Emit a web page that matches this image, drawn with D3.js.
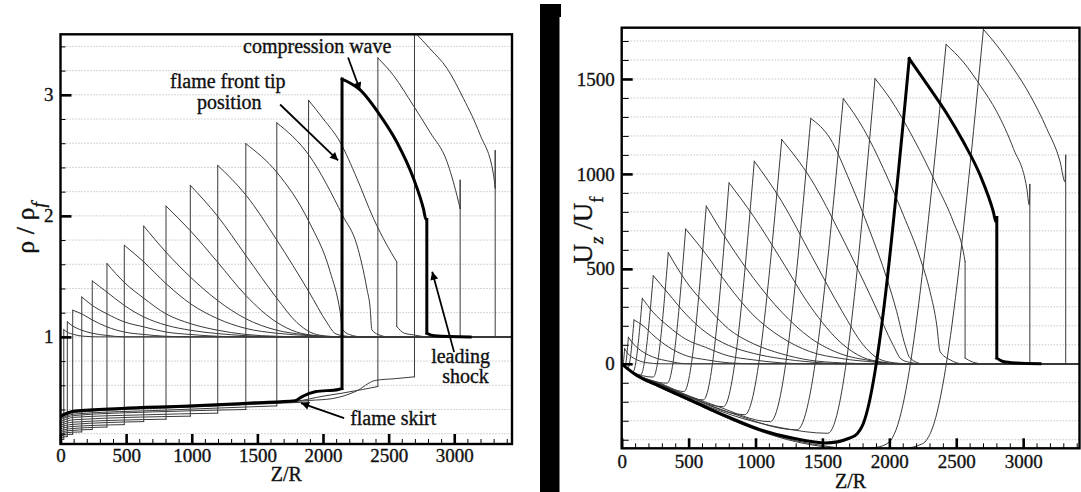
<!DOCTYPE html>
<html>
<head>
<meta charset="utf-8">
<script src="https://cdn.jsdelivr.net/npm/d3@7"></script>
<style>
  body { margin: 0; background: #fff; }
  svg { display: block; }
</style>
</head>
<body>
<svg id="chart" width="1081" height="492"></svg>
<script>
// density profiles rho/rho_f along Z/R, one array per time step: [Z/R, value]
const rho01 = [[0,0.150],[12,0.152],[25,0.153],[25,1.06],[50,1.04],[100,1.02],[180,1.005],[300,1.0],[3440,1.0]];
const rho02 = [[0,0.165],[20,0.172],[52,0.176],[52,1.124],[93,1.09],[162,1.055],[242,1.03],[354,1.012],[486,1.0],[3440,1.0]];
const rho03 = [[0,0.18],[30,0.19],[93,0.195],[93,1.22],[162,1.19],[242,1.14],[354,1.083],[486,1.04],[634,1.02],[804,1.005],[1000,1.0],[3440,1.0]];
const rho04 = [[0,0.195],[40,0.208],[162,0.215],[162,1.33],[242,1.26],[354,1.19],[486,1.124],[634,1.083],[804,1.04],[989,1.02],[1198,1.005],[1400,1.0],[3440,1.0]];
const rho05 = [[0,0.21],[50,0.224],[242,0.235],[242,1.462],[354,1.37],[486,1.26],[634,1.165],[804,1.097],[989,1.055],[1198,1.027],[1412,1.01],[1650,1.0],[3440,1.0]];
const rho06 = [[0,0.225],[60,0.24],[354,0.255],[354,1.606],[486,1.45],[634,1.32],[804,1.19],[989,1.11],[1198,1.055],[1412,1.02],[1648,1.005],[1900,1.0],[3440,1.0]];
const rho07 = [[0,0.24],[70,0.258],[486,0.275],[486,1.757],[634,1.62],[804,1.44],[989,1.275],[1198,1.15],[1412,1.07],[1648,1.03],[1900,1.01],[2100,1.0],[3440,1.0]];
const rho08 = [[0,0.255],[80,0.276],[634,0.30],[634,1.916],[804,1.70],[989,1.495],[1198,1.30],[1412,1.15],[1648,1.055],[1850,1.02],[2050,1.0],[3440,1.0]];
const rho09 = [[0,0.27],[90,0.295],[804,0.32],[804,2.081],[987,1.88],[1195,1.62],[1414,1.34],[1648,1.12],[1800,1.04],[1950,1.01],[2100,1.0],[3440,1.0]];
const rho10 = [[0,0.285],[100,0.315],[989,0.345],[989,2.252],[1195,2.0],[1414,1.67],[1648,1.32],[1800,1.12],[1900,1.04],[2000,1.01],[2150,1.0],[3440,1.0]];
const rho11 = [[0,0.30],[100,0.335],[600,0.355],[1198,0.37],[1198,2.417],[1414,2.17],[1648,1.80],[1894,1.37],[2029,1.12],[2090,1.03],[2150,1.01],[2250,1.0],[3440,1.0]];
const rho12 = [[0,0.315],[100,0.35],[700,0.38],[1412,0.40],[1412,2.596],[1648,2.36],[1894,1.95],[2054,1.54],[2130,1.21],[2150,1.06],[2200,1.02],[2300,1.0],[3440,1.0]];
const rho13 = [[0,0.325],[100,0.362],[800,0.395],[1648,0.43],[1648,2.769],[1894,2.50],[2151,2.0],[2258,1.76],[2334,1.40],[2359,1.24],[2372,1.06],[2420,1.02],[2500,1.0],[3440,1.0]];
const rho14 = [[0,0.335],[100,0.375],[1000,0.42],[1890,0.462],[1890,2.955],[2003,2.80],[2130,2.61],[2258,2.31],[2384,1.98],[2486,1.76],[2562,1.62],[2562,1.086],[2620,1.03],[2689,1.017],[2800,1.0],[3440,1.0]];
const rho15 = [[0,0.346],[110,0.387],[466,0.409],[974,0.428],[1482,0.455],[1787,0.472],[1838,0.505],[1940,0.546],[2118,0.566],[2145,0.574],[2145,3.13],[2283,3.04],[2435,2.83],[2562,2.61],[2689,2.31],[2765,2.06],[2785,1.97],[2791,1.97],[2791,1.03],[2850,1.01],[3121,1.0]];
const rho16 = [[0,0.35],[110,0.39],[1000,0.43],[1800,0.47],[2000,0.51],[2145,0.535],[2300,0.565],[2418,0.59],[2418,3.305],[2537,3.16],[2689,2.91],[2816,2.69],[2944,2.45],[3020,2.17],[3045,2.06],[3045,2.295],[3045,1.0],[3440,1.0]];
const rho17 = [[0,0.35],[110,0.39],[1000,0.43],[1900,0.475],[2070,0.49],[2250,0.55],[2398,0.64],[2550,0.655],[2697,0.67],[2697,3.52],[2816,3.38],[2944,3.22],[3070,2.97],[3197,2.67],[3299,2.34],[3312,2.23],[3312,2.54],[3312,1.0],[3440,1.0]];

// axial velocity profiles Uz/Uf along Z/R, same time steps
const u01 = [[0,0],[8,-4],[22,80],[47,53],[97,27],[177,7],[297,0],[3421,0]];
const u02 = [[0,0],[24,-12],[50,140],[91,102],[160,62],[240,34],[352,14],[484,0],[3421,0]];
const u03 = [[0,0],[20,-12],[46,-24],[92,231],[161,200],[241,147],[353,87],[485,42],[633,21],[803,5],[1000,0],[3421,0]];
const u04 = [[0,0],[40,-24],[84,-42],[154,345],[234,272],[346,199],[478,130],[626,87],[796,42],[981,21],[1190,5],[1400,0],[3421,0]];
const u05 = [[0,0],[60,-34],[140,-60],[236,464],[348,371],[480,261],[628,166],[798,97],[983,55],[1192,27],[1406,10],[1650,0],[3421,0]];
const u06 = [[0,0],[80,-42],[235,-70],[348,585],[480,435],[628,309],[798,184],[983,106],[1192,53],[1406,19],[1642,5],[1900,0],[3421,0]];
const u07 = [[0,0],[100,-50],[340,-102],[478,710],[626,581],[796,413],[981,258],[1190,141],[1404,65],[1640,28],[1892,9],[2100,0],[3421,0]];
const u08 = [[0,0],[100,-52],[280,-100],[465,-146],[632,831],[802,635],[987,449],[1196,272],[1410,136],[1646,50],[1848,18],[2050,0],[3421,0]];
const u09 = [[0,0],[100,-53],[320,-115],[610,-190],[802,953],[985,777],[1193,547],[1412,300],[1646,106],[1798,35],[1948,9],[2100,0],[3421,0]];
const u10 = [[0,0],[100,-54],[380,-135],[760,-226],[991,1067],[1197,854],[1416,572],[1650,273],[1802,102],[1902,34],[2002,9],[2150,0],[3421,0]];
const u11 = [[0,0],[100,-55],[460,-160],[920,-268],[1196,1181],[1412,975],[1646,667],[1892,308],[2027,100],[2088,25],[2150,8],[2250,0],[3421,0]];
const u12 = [[0,0],[100,-56],[300,-112],[700,-220],[1110,-305],[1413,1292],[1557,1187],[1706,959],[1856,696],[1981,450],[2055,275],[2117,100],[2155,30],[2250,0],[3421,0]];
const u13 = [[0,0],[100,-57],[300,-114],[800,-255],[1310,-348],[1656,1397],[1806,1239],[1955,1029],[2105,783],[2230,556],[2304,380],[2354,205],[2379,65],[2454,21],[2550,0],[3421,0]];
const u14 = [[0,0],[100,-58],[300,-117],[800,-265],[1200,-338],[1540,-366],[1893,1502],[2005,1397],[2180,1187],[2354,941],[2478,748],[2553,590],[2566,538],[2566,30],[2620,10],[2700,0],[3421,0]];
const u15 = [[0,0],[110,-60],[286,-119],[535,-198],[785,-277],[1034,-347],[1300,-395],[1525,-417],[1700,-392],[1760,-368],[1796,-330],[2149,1607],[2304,1449],[2429,1318],[2553,1169],[2678,994],[2777,801],[2797,748],[2803,770],[2803,30],[2850,12],[2950,4],[3126,0]];
const u16 = [[0,0],[110,-62],[286,-123],[535,-203],[785,-282],[1034,-352],[1300,-405],[1525,-433],[1706,-448],[1900,-440],[2000,-412],[2040,-365],[2424,1682],[2553,1589],[2678,1467],[2803,1327],[2927,1134],[3027,924],[3046,836],[3050,945],[3050,0],[3421,0]];
const u17 = [[0,0],[110,-63],[286,-125],[535,-205],[785,-285],[1034,-355],[1300,-410],[1525,-438],[1800,-450],[2100,-446],[2250,-420],[2310,-360],[2703,1761],[2803,1677],[2927,1555],[3052,1414],[3176,1239],[3276,1064],[3313,958],[3318,1099],[3318,0],[3421,0]];

const rhoProfiles = [rho01, rho02, rho03, rho04, rho05, rho06, rho07, rho08, rho09, rho10, rho11, rho12, rho13, rho14, rho15, rho16, rho17];
const uProfiles = [u01, u02, u03, u04, u05, u06, u07, u08, u09, u10, u11, u12, u13, u14, u15, u16, u17];
const highlighted = 14; // the profile drawn bold

const zTicks = [0, 500, 1000, 1500, 2000, 2500, 3000];
const rhoTicks = [1, 2, 3];
const uTicks = [0, 500, 1000, 1500];

// annotations of the density panel, in data coordinates
const noteLabels = ["compression wave", "flame front tip", "position", "leading", "shock", "flame skirt"];
const notePos = [[1391, 3.349], [835, 3.06], [1040, 2.885], [2824, 0.783], [2908, 0.616], [2207, 0.271]];
const arrowFrom = [[2191, 3.308], [1673, 2.92], [2999, 0.874], [2161, 0.329]];
const arrowTo = [[2283, 3.036], [2115, 2.458], [2832, 1.538], [1833, 0.453]];

const FONT = '"Liberation Serif", "Times New Roman", "DejaVu Serif", serif';
const svg = d3.select("#chart");

// the dark strip between the two panels
svg.append("rect").attr("x", 540).attr("y", 4).attr("width", 19.5).attr("height", 488).attr("fill", "#000");
svg.append("rect").attr("x", 540).attr("y", 4).attr("width", 21).attr("height", 13).attr("fill", "#000");

// cut a profile where it jumps vertically or turns at its peak, so corners stay sharp
function pieces(p) {
  const iPeak = d3.maxIndex(p, (d) => d[1]);
  const out = [];
  let cur = [p[0]];
  for (let i = 1; i < p.length; i++) {
    const a = p[i - 1], b = p[i];
    if (b[0] === a[0]) {
      if (cur.length > 1) out.push(cur);
      out.push([a, b]);
      cur = [b];
    } else {
      cur.push(b);
      if (i === iPeak) {
        out.push(cur);
        cur = [b];
      }
    }
  }
  if (cur.length > 1) out.push(cur);
  return out;
}

function drawPanel(opt) {
  const { x, y, minorX, minorY, majorY, grid, profiles, clipId, yMinorLen, xPad, yPad } = opt;
  const [xa, xb] = x.range();
  const [yb, ya] = y.range();
  const g = svg.append("g");

  svg.append("clipPath").attr("id", clipId)
    .append("rect").attr("x", xa).attr("y", ya).attr("width", xb - xa).attr("height", yb - ya);

  // dotted horizontal grid
  g.append("g").selectAll("line").data(grid).join("line")
    .attr("x1", xa).attr("x2", xb)
    .attr("y1", (d) => y(d)).attr("y2", (d) => y(d))
    .attr("stroke", "#aaa").attr("stroke-width", 1).attr("stroke-dasharray", "1,2");

  // profiles
  const line = d3.line().x((d) => x(d[0])).y((d) => y(d[1])).curve(d3.curveMonotoneX);
  const path = (p) => pieces(p).map((s) => line(s)).join("");
  const lines = g.append("g").attr("clip-path", `url(#${clipId})`).attr("fill", "none");
  lines.selectAll("path.thin").data(profiles.filter((p, i) => i !== highlighted)).join("path")
    .attr("class", "thin").attr("d", path).attr("stroke", "#3a3a3a").attr("stroke-width", 1)
    .attr("stroke-linecap", "round");
  lines.append("path").attr("d", path(profiles[highlighted]))
    .attr("stroke", "#000").attr("stroke-width", 3).attr("stroke-linecap", "square");

  // minor ticks
  g.append("g").attr("transform", `translate(0,${yb})`)
    .call(d3.axisBottom(x).tickValues(minorX).tickSize(-5).tickFormat(""));
  g.append("g").attr("transform", `translate(${xa},0)`)
    .call(d3.axisLeft(y).tickValues(minorY).tickSize(-yMinorLen).tickFormat(""));

  // major ticks with labels
  g.append("g").attr("class", "major").attr("transform", `translate(0,${yb})`)
    .call(d3.axisBottom(x).tickValues(zTicks).tickSize(-10).tickPadding(xPad).tickFormat(d3.format("d")));
  g.append("g").attr("class", "major").attr("transform", `translate(${xa},0)`)
    .call(d3.axisLeft(y).tickValues(majorY).tickSize(-11).tickPadding(yPad).tickFormat(d3.format("d")));

  g.selectAll(".domain").remove();
  g.selectAll(".tick line").attr("stroke", "#000").attr("stroke-width", 1);
  g.selectAll(".major .tick line").attr("stroke-width", 2.6);
  g.selectAll(".major text").attr("fill", "#111").style("font-size", "19px");

  // frame
  g.append("rect").attr("x", xa).attr("y", ya).attr("width", xb - xa).attr("height", yb - ya)
    .attr("fill", "none").attr("stroke", "#000").attr("stroke-width", 2.4);

  // axis title below
  g.append("text").attr("x", (xa + xb) / 2).attr("y", yb + opt.titleGap)
    .attr("text-anchor", "middle").style("font-size", "20px").attr("fill", "#111").text("Z/R");
  return g;
}

// left panel: density
const xL = d3.scaleLinear().domain([0, 3440]).range([60.5, 512]);
const yL = d3.scaleLinear().domain([0.115, 3.5]).range([444, 34.3]);
const gL = drawPanel({
  x: xL, y: yL, clipId: "clipL", profiles: rhoProfiles,
  minorX: d3.range(0, 3401, 100), minorY: d3.range(0.2, 3.45, 0.2), majorY: rhoTicks,
  grid: d3.range(0.2, 3.45, 0.2), yMinorLen: 5, xPad: 5, yPad: 7, titleGap: 37,
});

// right panel: axial velocity
const xR = d3.scaleLinear().domain([0, 3421]).range([621.7, 1079.5]);
const yR = d3.scaleLinear().domain([-445, 1770]).range([448.3, 27.7]);
const gR = drawPanel({
  x: xR, y: yR, clipId: "clipR", profiles: uProfiles,
  minorX: d3.range(0, 3401, 100), minorY: d3.range(-400, 1701, 100), majorY: uTicks,
  grid: d3.range(-400, 1701, 100), yMinorLen: 7, xPad: 6.5, yPad: 7, titleGap: 40,
});

// y axis titles
const tL = gL.append("text").attr("transform", "translate(34,228) rotate(-90)")
  .attr("text-anchor", "middle").style("font-size", "26px").attr("fill", "#111");
tL.append("tspan").text("ρ / ρ");
tL.append("tspan").attr("baseline-shift", "sub").style("font-size", "19px").style("font-style", "italic").text("f");

const tR = gR.append("text").attr("transform", "translate(592,230) rotate(-90)")
  .attr("text-anchor", "middle").style("font-size", "27px").attr("fill", "#111");
tR.append("tspan").text("U");
tR.append("tspan").attr("baseline-shift", "sub").style("font-size", "19px").style("font-style", "italic").text("z");
tR.append("tspan").text(" /U");
tR.append("tspan").attr("baseline-shift", "sub").style("font-size", "19px").text("f");

// annotations
svg.append("defs").append("marker").attr("id", "head")
  .attr("viewBox", "0 0 10 10").attr("refX", 10).attr("refY", 5)
  .attr("markerWidth", 11).attr("markerHeight", 8).attr("markerUnits", "userSpaceOnUse")
  .attr("orient", "auto")
  .append("path").attr("d", "M0,0 L10,5 L0,10 z").attr("fill", "#000");

gL.append("g").selectAll("line").data(arrowFrom).join("line")
  .attr("x1", (d) => xL(d[0])).attr("y1", (d) => yL(d[1]))
  .attr("x2", (d, i) => xL(arrowTo[i][0])).attr("y2", (d, i) => yL(arrowTo[i][1]))
  .attr("stroke", "#000").attr("stroke-width", 1.8).attr("marker-end", "url(#head)");

gL.append("g").selectAll("text").data(noteLabels).join("text")
  .attr("x", (d, i) => xL(notePos[i][0])).attr("y", (d, i) => yL(notePos[i][1]))
  .style("font-size", "20px").attr("fill", "#111").text((d) => d);

// serif everywhere, a little heavier like the scanned original
svg.selectAll("g").attr("font-family", null);
svg.selectAll("text").style("font-family", FONT)
  .attr("stroke", "#111").attr("stroke-width", 0.35);
</script>
</body>
</html>
